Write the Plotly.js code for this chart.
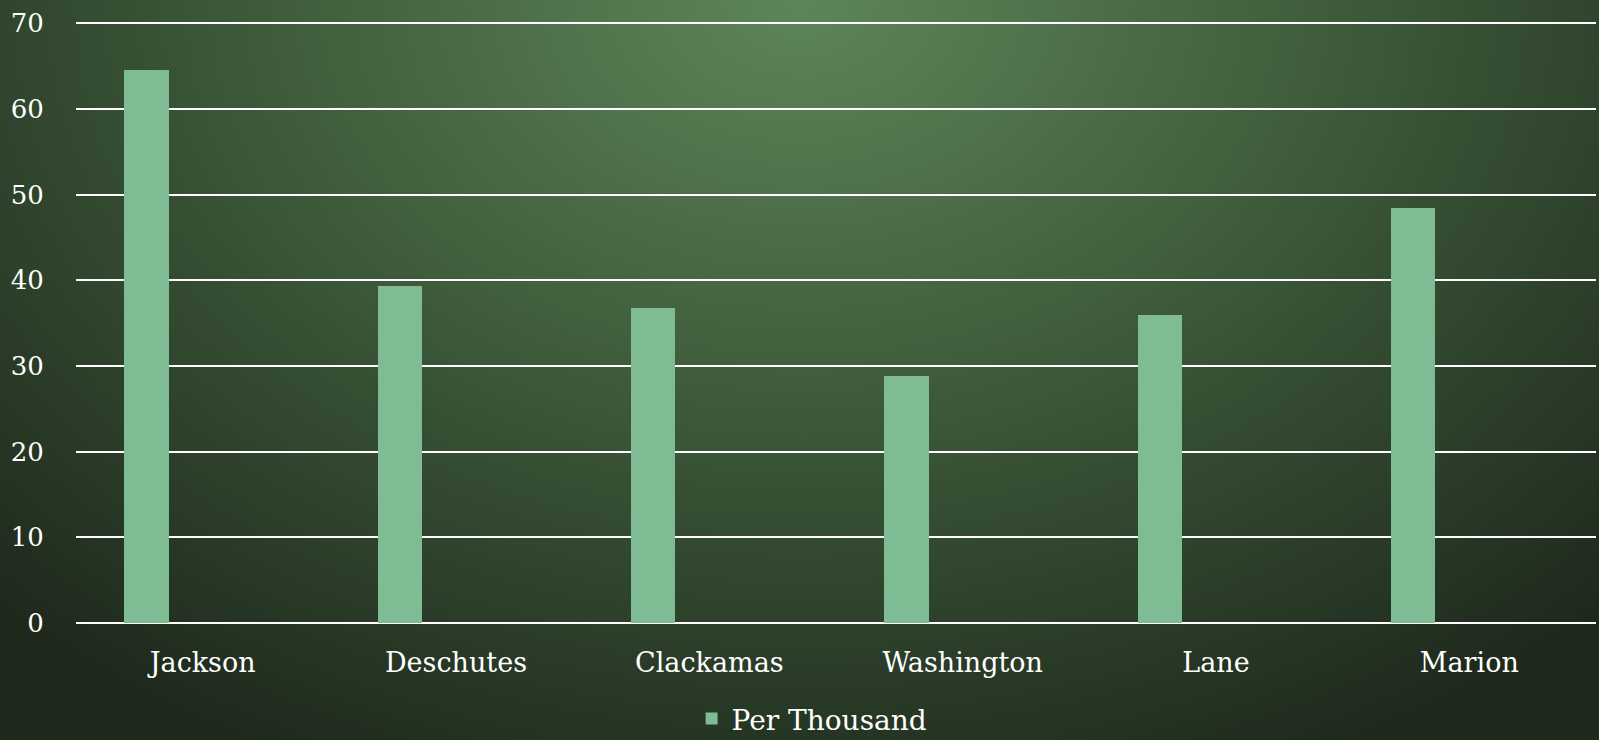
<!DOCTYPE html>
<html>
<head>
<meta charset="utf-8">
<script src="https://cdn.plot.ly/plotly-3.0.1.min.js"></script>
<style>
html, body { margin:0; padding:0; width:1599px; height:740px; overflow:hidden; }
body {
  background:
    radial-gradient(ellipse 1150px 850px at 800px 0px, rgba(94,133,90,1) 0%, rgba(74,106,70,1) 30%, rgba(52,76,49,1) 62%, rgba(30,41,28,1) 100%),
    #1e2a1c;
}
#chart { width:1599px; height:740px; }
</style>
</head>
<body>
<div id="chart"></div>
<script>
const categories = ["Jackson", "Deschutes", "Clackamas", "Washington", "Lane", "Marion"];
const perThousand = [64.6, 39.3, 36.8, 28.8, 36.0, 48.4];
const yTicks = [0, 10, 20, 30, 40, 50, 60, 70];
const seriesName = "Per Thousand";

const fontFamily = "'DejaVu Serif', 'Liberation Serif', serif";

const trace = {
  type: "bar",
  x: categories,
  y: perThousand,
  name: seriesName,
  marker: { color: "#80bc93", line: { width: 0 } },
  width: 0.175,
  offset: -0.309,
  showlegend: true,
  hoverinfo: "x+y"
};

const layout = {
  width: 1599,
  height: 740,
  paper_bgcolor: "rgba(0,0,0,0)",
  plot_bgcolor: "rgba(0,0,0,0)",
  margin: { l: 76, r: 3, t: 22, b: 117, autoexpand: false },
  font: { family: fontFamily, color: "#ffffff", size: 27 },
  bargap: 0,
  xaxis: {
    type: "category",
    showgrid: false,
    showline: false,
    zeroline: false,
    ticks: "outside",
    ticklen: 16,
    tickcolor: "rgba(0,0,0,0)",
    tickfont: { family: fontFamily, size: 27, color: "#ffffff" }
  },
  yaxis: {
    range: [0, 70.15],
    tickvals: yTicks,
    ticktext: yTicks.map(String),
    showgrid: true,
    gridcolor: "#ffffff",
    gridwidth: 2,
    zeroline: true,
    zerolinecolor: "#ffffff",
    zerolinewidth: 2,
    showline: false,
    ticks: "outside",
    ticklen: 26,
    tickcolor: "rgba(0,0,0,0)",
    tickfont: { family: fontFamily, size: 26, color: "#ffffff" }
  },
  showlegend: true,
  legend: {
    orientation: "h",
    x: 0.405,
    xanchor: "left",
    y: -0.118,
    yanchor: "top",
    bgcolor: "rgba(0,0,0,0)",
    font: { family: fontFamily, size: 28, color: "#ffffff" },
    itemwidth: 30
  }
};

Plotly.newPlot("chart", [trace], layout, { displayModeBar: false, staticPlot: true });
</script>
</body>
</html>
